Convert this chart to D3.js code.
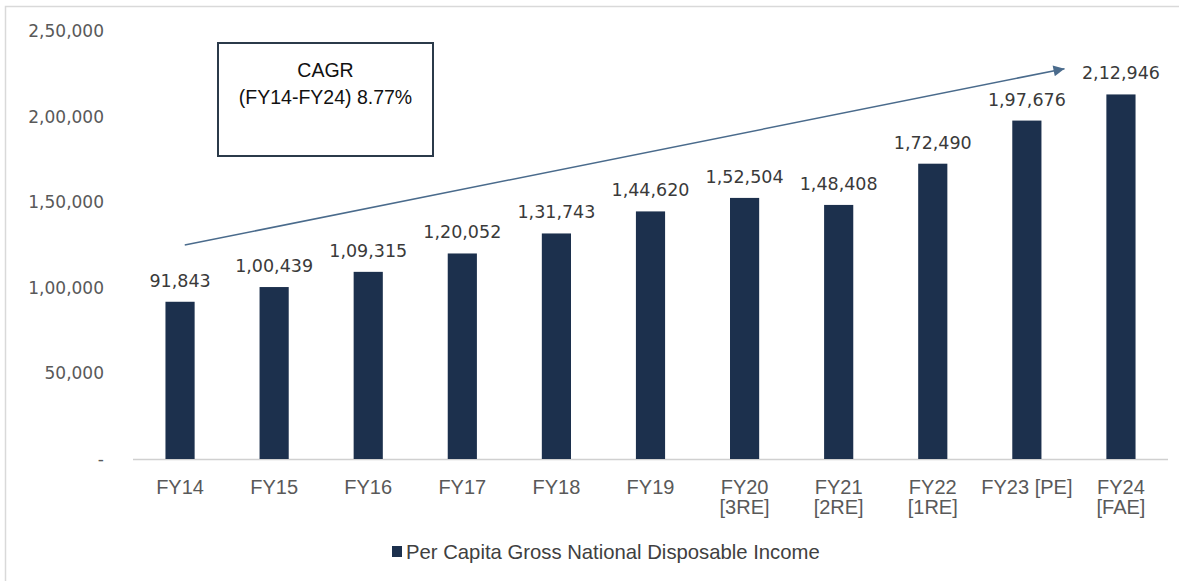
<!DOCTYPE html>
<html><head><meta charset="utf-8">
<script src="https://cdn.jsdelivr.net/npm/d3@7"></script>
<style>body{margin:0;background:#fff;}svg{display:block;}</style>
</head><body>
<svg id="c" width="1179" height="581"></svg>
<script>
const categories = ["FY14","FY15","FY16","FY17","FY18","FY19","FY20 [3RE]","FY21 [2RE]","FY22 [1RE]","FY23 [PE]","FY24 [FAE]"];
const categoryLines = [["FY14"],["FY15"],["FY16"],["FY17"],["FY18"],["FY19"],["FY20","[3RE]"],["FY21","[2RE]"],["FY22","[1RE]"],["FY23 [PE]"],["FY24","[FAE]"]];
const values = [91843,100439,109315,120052,131743,144620,152504,148408,172490,197676,212946];
const valueLabels = ["91,843","1,00,439","1,09,315","1,20,052","1,31,743","1,44,620","1,52,504","1,48,408","1,72,490","1,97,676","2,12,946"];
const yTicks = [0,50000,100000,150000,200000,250000];
const yTickLabels = ["-","50,000","1,00,000","1,50,000","2,00,000","2,50,000"];
const seriesName = "Per Capita Gross National Disposable Income";
const cagrLines = ["CAGR","(FY14-FY24) 8.77%"];
const arrowFrom = {cat:"FY14", offset:0.05, value:125000};
const arrowTo = {cat:"FY23 [PE]", offset:0.4, value:228000};

const svg = d3.select("#c");
const x = d3.scaleBand().domain(categories).range([133,1168]).paddingInner(0.69).paddingOuter(0.345);
const y = d3.scaleLinear().domain([0,250000]).range([459,31]);

// frame
svg.append("rect").attr("x",5.5).attr("y",6.5).attr("width",1190).attr("height",600)
  .attr("fill","none").attr("stroke","#d9d9d9").attr("stroke-width",1.5);

// y axis labels
const ya = svg.append("g").attr("transform","translate(104,0)")
  .call(d3.axisLeft(y).tickValues(yTicks).tickFormat((d,i)=>yTickLabels[i]).tickSize(0).tickPadding(0));
ya.select(".domain").remove();
ya.selectAll("text").attr("font-family","DejaVu Sans, Verdana, sans-serif").attr("font-size",17).attr("fill","#595959");

// baseline
svg.append("line").attr("x1",133).attr("x2",1168).attr("y1",y(0)+0.5).attr("y2",y(0)+0.5)
  .attr("stroke","#d0d0d0").attr("stroke-width",1.5);

// bars
svg.selectAll("rect.bar").data(values).join("rect").attr("class","bar")
  .attr("x",(d,i)=>x(categories[i])).attr("width",x.bandwidth())
  .attr("y",d=>y(d)).attr("height",d=>y(0)-y(d)).attr("fill","#1c304d");

// value labels
svg.selectAll("text.val").data(values).join("text").attr("class","val")
  .attr("x",(d,i)=>x(categories[i])+x.bandwidth()/2).attr("y",d=>y(d)-15)
  .attr("text-anchor","middle").attr("font-family","DejaVu Sans, Verdana, sans-serif")
  .attr("font-size",17.5).attr("fill","#3a3a3a").text((d,i)=>valueLabels[i]);

// x labels
const xl = svg.selectAll("text.xl").data(categories).join("text").attr("class","xl")
  .attr("x",d=>x(d)+x.bandwidth()/2).attr("y",494).attr("text-anchor","middle")
  .attr("font-family","Liberation Sans Narrow, Arial Narrow, sans-serif").attr("font-size",20).attr("fill","#595959");
xl.each(function(d,i){
  const t=d3.select(this);
  categoryLines[i].forEach((l,j)=>t.append("tspan").attr("x",x(d)+x.bandwidth()/2).attr("dy",j?20:0).text(l));
});

// arrow
const defs = svg.append("defs");
defs.append("marker").attr("id","ah").attr("viewBox","0 0 10 10").attr("refX",10).attr("refY",5)
  .attr("markerUnits","userSpaceOnUse").attr("orient","auto")
  .attr("markerWidth",14).attr("markerHeight",11)
  .append("path").attr("d","M0,0L10,5L0,10Z").attr("fill","#4a6b8c");
const ax = (a)=>x(a.cat)+x.bandwidth()/2 + a.offset*x.step();
svg.append("line").attr("x1",ax(arrowFrom)).attr("y1",y(arrowFrom.value))
  .attr("x2",ax(arrowTo)).attr("y2",y(arrowTo.value))
  .attr("stroke","#4a6b8c").attr("stroke-width",1.5).attr("marker-end","url(#ah)");

// CAGR box
svg.append("rect").attr("x",218).attr("y",43).attr("width",215).attr("height",113)
  .attr("fill","#fff").attr("stroke","#2b3a4a").attr("stroke-width",2);
svg.selectAll("text.cagr").data(cagrLines).join("text").attr("class","cagr")
  .attr("x",325.5).attr("y",(d,i)=>77+i*27).attr("text-anchor","middle")
  .attr("font-family","Liberation Sans, Arial, sans-serif").attr("font-size",19.5).attr("fill","#111")
  .text(d=>d);

// legend
svg.append("rect").attr("x",392).attr("y",546).attr("width",10).attr("height",11).attr("fill","#1c304d");
svg.append("text").attr("x",406).attr("y",559).attr("font-family","Liberation Sans Narrow, Arial Narrow, sans-serif")
  .attr("font-size",20.3).attr("fill","#404040").text(seriesName);
</script>
</body></html>
